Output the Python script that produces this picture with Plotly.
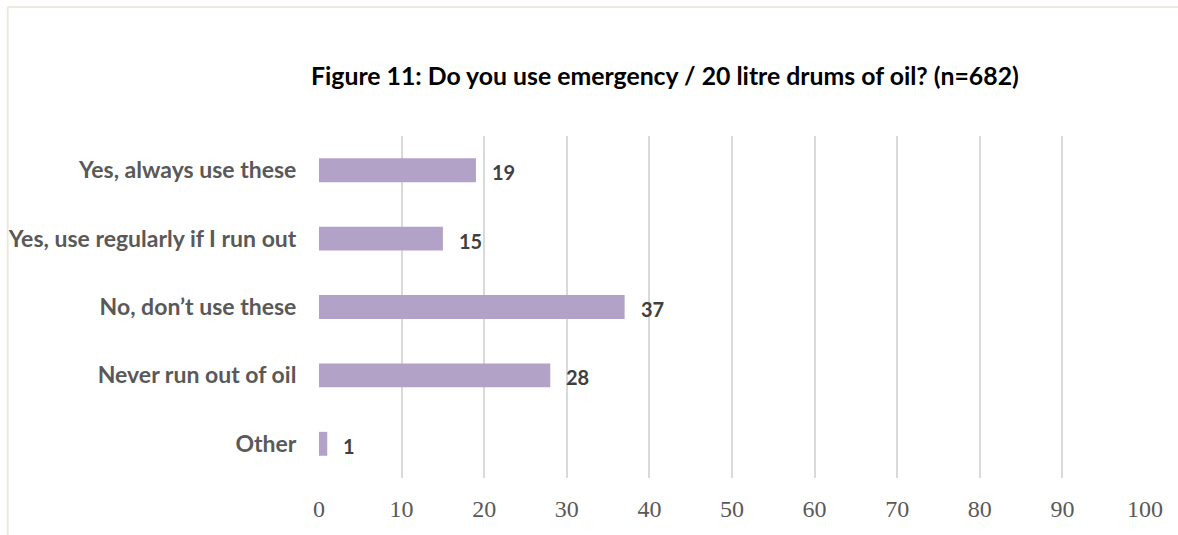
import plotly.graph_objects as go

categories = [
    "Yes, always use these",
    "Yes, use regularly if I run out",
    "No, don\u2019t use these",
    "Never run out of oil",
    "Other",
]
values = [19, 15, 37, 28, 1]
x_ticks = [0, 10, 20, 30, 40, 50, 60, 70, 80, 90, 100]

W, H = 1178, 535
L, R, T, B = 318.5, 33, 136, 57
pw, ph = W - L - R, H - T - B


def px_x(p):
    return (p - L) / pw


def px_y(p):
    return 1 - (p - T) / ph


fig = go.Figure(
    go.Bar(
        x=values,
        y=categories,
        orientation="h",
        width=0.35,
        marker=dict(color="#B3A2C7", line=dict(width=0)),
        hoverinfo="x+y",
    )
)

for c, v in zip(categories, values):
    fig.add_annotation(
        x=v, y=c, xref="x", yref="y",
        text=f"<b>{v}</b>", showarrow=False,
        xanchor="left", xshift=14, yshift=-2,
        font=dict(family="Lato", size=20, color="#404040"),
    )

fig.add_annotation(
    x=px_x(665), y=px_y(75), xref="paper", yref="paper",
    text="<b>Figure 11: Do you use emergency / 20 litre drums of oil? (n=682)</b>",
    showarrow=False, xanchor="center", yanchor="middle",
    font=dict(family="Lato", size=24.8, color="#000000"),
)

# outer chart frame (top and left edges visible)
fig.add_shape(
    type="line", xref="paper", yref="paper",
    x0=px_x(7), x1=px_x(W + 5), y0=px_y(7), y1=px_y(7),
    line=dict(color="#EDE9DF", width=2),
)
fig.add_shape(
    type="line", xref="paper", yref="paper",
    x0=px_x(7), x1=px_x(7), y0=px_y(7), y1=px_y(H + 5),
    line=dict(color="#EDE9DF", width=2),
)

fig.update_layout(
    width=W, height=H,
    margin=dict(l=L, r=R, t=T, b=B),
    paper_bgcolor="white", plot_bgcolor="white",
    showlegend=False,
    bargap=0.65,
)
fig.update_xaxes(
    range=[0, 100], tickvals=x_ticks, automargin=False,
    showgrid=True, gridcolor="#D9D9D9", gridwidth=1.5,
    zeroline=False, showline=False,
    ticks="outside", ticklen=9, tickcolor="rgba(0,0,0,0)",
    tickfont=dict(family="Liberation Serif", size=24, color="#595959"),
)
fig.update_yaxes(
    autorange="reversed", automargin=False,
    showgrid=False, zeroline=False, showline=False,
    ticks="outside", ticklen=17, tickcolor="rgba(0,0,0,0)",
    tickfont=dict(family="Lato", size=23, color="#595959", weight="bold"),
)

fig.write_html("out.html")
